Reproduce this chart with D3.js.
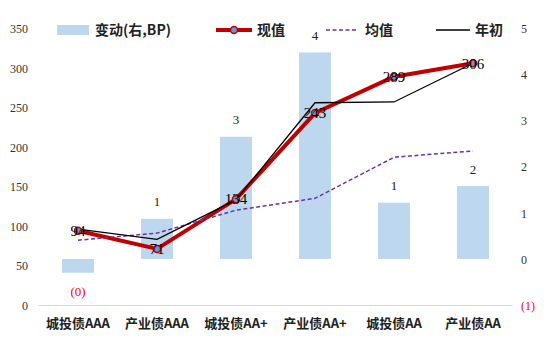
<!DOCTYPE html>
<html><head><meta charset="utf-8">
<script src="https://cdn.jsdelivr.net/npm/d3@7"></script>
<style>body{margin:0;background:#fff}svg{display:block}</style>
</head><body>
<svg id="c" width="550" height="343"></svg>
<script>
const categories = ["城投债AAA","产业债AAA","城投债AA+","产业债AA+","城投债AA","产业债AA"];
const change = [-0.3, 0.87, 2.65, 4.48, 1.22, 1.58];
const current = [94, 71, 134, 243, 289, 306];
const mean = [82, 91, 120, 135, 187, 195];
const yearStart = [96, 83, 133, 256, 257, 306];
const leftTicks = [0,50,100,150,200,250,300,350];
const rightTicks = [-1,0,1,2,3,4,5];
const legendLabels = ["变动(右,BP)","现值","均值","年初"];

const svg = d3.select("#c");
const serif = "'Liberation Serif','DejaVu Serif',serif";
const cjk = "'Noto Sans CJK SC','Noto Sans',sans-serif";

const x = d3.scaleBand().domain(categories).range([38.5,512.5]).paddingInner(0.595).paddingOuter(0.2975);
const yL = d3.scaleLinear().domain([0,350]).range([305,28.5]);
const yR = d3.scaleLinear().domain([-1,5]).range([305,28.5]);
const cx = c => x(c) + x.bandwidth()/2;
const fmtR = v => { const r = Math.round(Math.abs(v)); return v < 0 ? "(" + r + ")" : String(r); };

// bars
svg.append("g").selectAll("rect").data(categories).join("rect")
  .attr("x", c => x(c)).attr("width", x.bandwidth())
  .attr("y", (c,i) => yR(Math.max(0, change[i])))
  .attr("height", (c,i) => Math.abs(yR(change[i]) - yR(0)))
  .attr("fill", "#bdd7ee");

// x axis line
svg.append("line").attr("x1",38.5).attr("x2",512.5).attr("y1",305.5).attr("y2",305.5)
  .attr("stroke","#d9d9d9").attr("stroke-width",1);

// left axis
const gl = svg.append("g").attr("transform","translate(28,0)")
  .call(d3.axisLeft(yL).tickValues(leftTicks).tickSize(0).tickPadding(0));
gl.select(".domain").remove();
gl.selectAll("text").attr("font-family",serif).attr("font-size",12).attr("fill","#333").attr("dy","0.35em");

// right axis
const gr = svg.append("g").attr("transform","translate(521,0)")
  .call(d3.axisRight(yR).tickValues(rightTicks).tickSize(0).tickPadding(0).tickFormat(fmtR));
gr.select(".domain").remove();
gr.selectAll("text").attr("font-family",serif).attr("font-size",12)
  .attr("fill", d => d < 0 ? "#ff0000" : "#333").attr("dy","0.35em");

// x labels
svg.append("g").selectAll("text").data(categories).join("text")
  .attr("x", cx).attr("y", 328).attr("text-anchor","middle")
  .attr("font-family",cjk).attr("font-weight","bold").attr("font-size",13).attr("fill","#222")
  .text(d => d);

// lines
const line = arr => d3.line().x((d,i) => cx(categories[i])).y(d => yL(d))(arr);
svg.append("path").attr("d", line(current)).attr("fill","none").attr("stroke","#c00000").attr("stroke-width",4).attr("stroke-linejoin","round");
svg.append("path").attr("d", line(mean)).attr("fill","none").attr("stroke","#7030a0").attr("stroke-width",1.5).attr("stroke-dasharray","4,2.5");
svg.append("path").attr("d", line(yearStart)).attr("fill","none").attr("stroke","#000").attr("stroke-width",1.3);
svg.append("g").selectAll("circle").data(current).join("circle")
  .attr("cx",(d,i)=>cx(categories[i])).attr("cy",d=>yL(d)).attr("r",3.5)
  .attr("fill","#5b9bd5").attr("stroke","#c00000").attr("stroke-width",1.5);

// line labels
svg.append("g").selectAll("text").data(current).join("text")
  .attr("x",(d,i)=>cx(categories[i])).attr("y",d=>yL(d)).attr("dy","0.35em")
  .attr("text-anchor","middle").attr("font-family",serif).attr("font-size",15).attr("fill","#000")
  .text(d=>d);

// bar labels
svg.append("g").selectAll("text").data(change).join("text")
  .attr("x",(d,i)=>cx(categories[i]))
  .attr("y",d => d < 0 ? yR(d) + 19 : yR(d) - 17).attr("dy","0.35em")
  .attr("text-anchor","middle").attr("font-family",serif).attr("font-size",13)
  .attr("fill", d => d < 0 ? "#ff0000" : "#222")
  .text(fmtR);

// legend
const lg = svg.append("g");
const ly = 30;
lg.append("rect").attr("x",57).attr("y",ly-5).attr("width",32).attr("height",10).attr("fill","#bdd7ee");
lg.append("line").attr("x1",216).attr("x2",252).attr("y1",ly).attr("y2",ly).attr("stroke","#c00000").attr("stroke-width",4);
lg.append("circle").attr("cx",234).attr("cy",ly).attr("r",3.5).attr("fill","#5b9bd5").attr("stroke","#c00000").attr("stroke-width",1.5);
lg.append("line").attr("x1",326).attr("x2",356).attr("y1",ly).attr("y2",ly).attr("stroke","#7030a0").attr("stroke-width",1.5).attr("stroke-dasharray","4,2.5");
lg.append("line").attr("x1",436).attr("x2",470).attr("y1",ly).attr("y2",ly).attr("stroke","#000").attr("stroke-width",1.3);
const lx = [95, 257, 365, 475];
lg.selectAll("text").data(legendLabels).join("text")
  .attr("x",(d,i)=>lx[i]).attr("y",ly).attr("dy","0.35em")
  .attr("font-family",cjk).attr("font-weight","bold").attr("font-size",14).attr("fill","#222")
  .text(d=>d);
</script>
</body></html>
